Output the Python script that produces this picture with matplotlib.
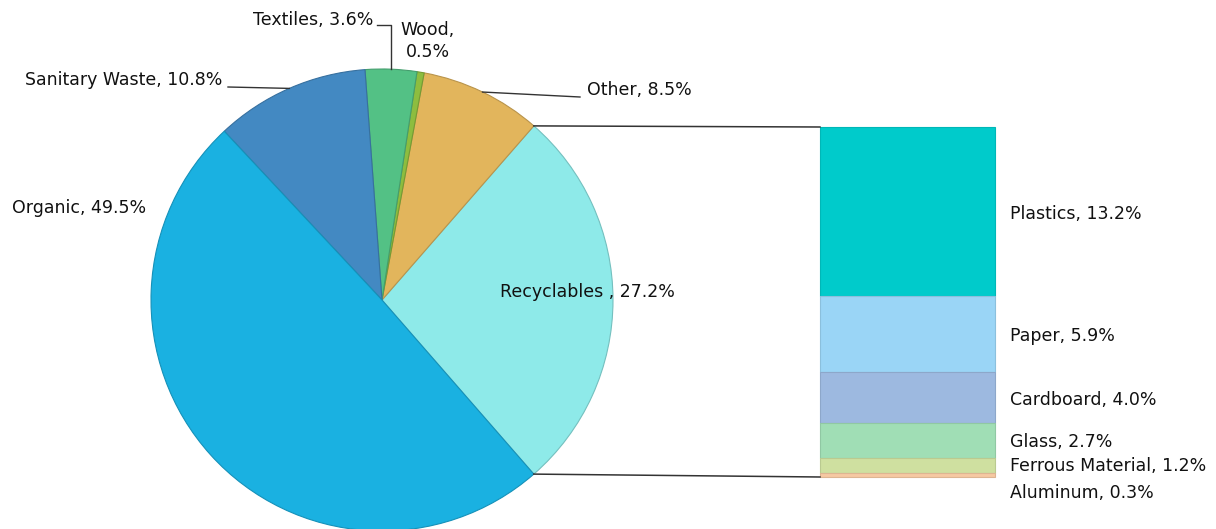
import numpy as np
import matplotlib
matplotlib.use("Agg")
import matplotlib.pyplot as plt

plt.rcParams['font.family'] = ['DejaVu Sans']

# ---- data ----
pie_labels = ["Recyclables ", "Other", "Wood", "Textiles", "Sanitary Waste", "Organic"]
pie_values = [27.2, 8.5, 0.5, 3.6, 10.8, 49.5]
pie_colors = ["#8EEAE9", "#E2B55C", "#8DBD3F", "#53C185", "#4389C2", "#1AB1E1"]

bar_labels = ["Plastics", "Paper", "Cardboard", "Glass", "Ferrous Material", "Aluminum"]
bar_values = [13.2, 5.9, 4.0, 2.7, 1.2, 0.3]
bar_colors = ["#00CBCB", "#9AD5F6", "#9DB9E0", "#A0DEB5", "#CFE0A0", "#F6C9A2"]

W, H = 1216, 529
fig = plt.figure(figsize=(W / 100, H / 100), dpi=100)
ax = fig.add_axes([0, 0, 1, 1])

def Y(py):
    return H - py

cx, cy, R = 382, Y(300), 231
total = sum(pie_values)
start = -pie_values[0] / total * 360 / 2

def darker(c, f=0.85):
    r, g, b = matplotlib.colors.to_rgb(c)
    return (r * f, g * f, b * f)

wedges, _ = ax.pie(pie_values, colors=pie_colors, startangle=start, counterclock=True,
                   center=(cx, cy), radius=R, frame=True,
                   wedgeprops=dict(linewidth=0.8))
for w, c in zip(wedges, pie_colors):
    w.set_edgecolor(darker(c, 0.82))
ax.set_xlim(0, W)
ax.set_ylim(0, H)
ax.set_aspect('equal')
ax.axis('off')

angles = []
a = start
for v in pie_values:
    span = v / total * 360
    angles.append((a, a + span))
    a += span

def pt(ang, r=R):
    t = np.deg2rad(ang)
    return cx + r * np.cos(t), cy + r * np.sin(t)

fs = 12.5
tc = '#111111'
lc = '#333333'
# Recyclables label inside
ax.text(500, Y(292), f"{pie_labels[0]}, {pie_values[0]}%", fontsize=fs, va='center', ha='left', color=tc)
# Organic
ax.text(12, Y(208), f"{pie_labels[5]}, {pie_values[5]}%", fontsize=fs, va='center', ha='left', color=tc)
# Sanitary with leader
sx, sy = pt(np.mean(angles[4]))
ax.plot([228, sx], [Y(87), sy], color=lc, lw=1.0)
ax.text(222, Y(80), f"{pie_labels[4]}, {pie_values[4]}%", fontsize=fs, va='center', ha='right', color=tc)
# Textiles
tx, ty = pt(np.mean(angles[3]))
ax.plot([377, tx, tx], [Y(25), Y(25), ty], color=lc, lw=1.0)
ax.text(373, Y(20), f"{pie_labels[3]}, {pie_values[3]}%", fontsize=fs, va='center', ha='right', color=tc)
# Wood
ax.text(428, Y(41), f"{pie_labels[2]},\n{pie_values[2]}%", fontsize=fs, va='center', ha='center',
        linespacing=1.3, color=tc)
# Other
ox, oy = pt(np.mean(angles[1]))
ax.plot([ox, 580], [oy, Y(97)], color=lc, lw=1.0)
ax.text(587, Y(90), f"{pie_labels[1]}, {pie_values[1]}%", fontsize=fs, va='center', ha='left', color=tc)

# stacked bar
bx0, bx1 = 820, 995
btop, bbot = Y(127), Y(477)
scale = (btop - bbot) / sum(bar_values)
label_y = [214, 336, 400, 442, 466, 493]
top = btop
for lab, v, c, ly in zip(bar_labels, bar_values, bar_colors, label_y):
    h = v * scale
    ax.bar((bx0 + bx1) / 2, h, width=bx1 - bx0, bottom=top - h, color=c,
           edgecolor=darker(c, 0.9), linewidth=0.8)
    ax.text(1010, Y(ly), f"{lab}, {v}%", fontsize=fs, va='center', ha='left', color=tc)
    top -= h

# connector lines
p1 = pt(angles[0][1])
p2 = pt(angles[0][0])
ax.plot([p1[0], bx0], [p1[1], btop], color=lc, lw=1.1)
ax.plot([p2[0], bx0], [p2[1], bbot], color=lc, lw=1.1)

fig.savefig("out.png", dpi=100)
